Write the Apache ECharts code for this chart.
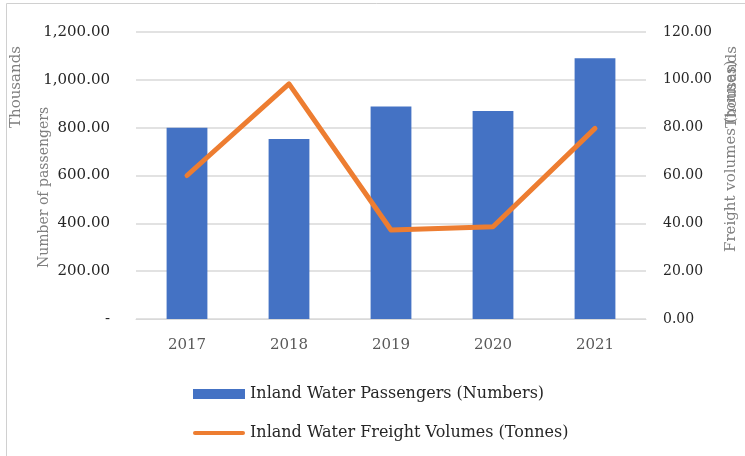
<!DOCTYPE html>
<html>
<head>
<meta charset="utf-8">
<title>Inland water</title>
<script src="https://cdn.jsdelivr.net/npm/echarts@6/dist/echarts.min.js"></script>
<style>
html,body{margin:0;padding:0;background:#fff;}
#main{width:745px;height:456px;}
</style>
</head>
<body>
<div id="main"></div>
<script>
// data
var years = ['2017', '2018', '2019', '2020', '2021'];
var passengers = [800, 753, 889, 870, 1090];   // thousands
var freight = [60, 98.3, 37.2, 38.6, 79.7];     // thousands of tonnes

var serif = '"DejaVu Serif", "Liberation Serif", serif';

function fmtLeft(v) {
	if (v === 0) return '-';
	return v.toLocaleString('en-US', {minimumFractionDigits: 2, maximumFractionDigits: 2});
}

var myChart = echarts.init(document.getElementById('main'));
var option = {
	animation: false,
	backgroundColor: '#fff',
	grid: {left: 136, right: 99, top: 32, bottom: 137},
	legend: {
		orient: 'vertical',
		left: 188,
		top: 381,
		itemWidth: 52,
		itemHeight: 10,
		itemGap: 23,
		textStyle: {fontFamily: serif, fontSize: 16, color: '#262626'},
		data: [
			{name: 'Inland Water Passengers (Numbers)', icon: 'rect'},
			{name: 'Inland Water Freight Volumes (Tonnes)', icon: 'path://M2,0 L50,0 A2,2 0 0 1 50,4 L2,4 A2,2 0 0 1 2,0 Z'}
		]
	},
	xAxis: {
		type: 'category',
		data: years,
		axisLine: {lineStyle: {color: '#d9d9d9', width: 1}},
		axisTick: {show: false},
		axisLabel: {fontFamily: serif, fontSize: 15, color: '#595959', margin: 19}
	},
	yAxis: [
		{
			type: 'value', min: 0, max: 1200, interval: 200,
			axisLine: {show: false}, axisTick: {show: false},
			splitLine: {lineStyle: {color: '#d9d9d9', width: 1.5}},
			axisLabel: {fontFamily: serif, fontSize: 15, color: '#262626', margin: 26, formatter: fmtLeft}
		},
		{
			type: 'value', min: 0, max: 120, interval: 20,
			axisLine: {show: false}, axisTick: {show: false},
			splitLine: {show: false},
			axisLabel: {fontFamily: serif, fontSize: 14, color: '#262626', margin: 17,
				formatter: function (v) { return v.toFixed(2); }}
		}
	],
	series: [
		{
			name: 'Inland Water Passengers (Numbers)',
			type: 'bar',
			data: passengers,
			barWidth: '40%',
			itemStyle: {color: '#4472C4'}
		},
		{
			name: 'Inland Water Freight Volumes (Tonnes)',
			type: 'line',
			yAxisIndex: 1,
			data: freight,
			symbol: 'none',
			lineStyle: {color: '#ED7D31', width: 5, cap: 'round', join: 'round'},
			itemStyle: {color: '#ED7D31'}
		}
	],
	graphic: [
		// outer frame of the original figure
		{type: 'rect', shape: {x: 6.5, y: 3.5, width: 760, height: 470}, style: {fill: 'none', stroke: '#d0d0d0', lineWidth: 1}, silent: true},
		{type: 'text', x: 9, y: 128, rotation: Math.PI / 2,
			style: {text: 'Thousands', font: '15px ' + serif, fill: '#7f7f7f'}},
		{type: 'text', x: 37, y: 268, rotation: Math.PI / 2,
			style: {text: 'Number of passengers', font: '14px ' + serif, fill: '#7f7f7f'}},
		{type: 'text', x: 724, y: 252, rotation: Math.PI / 2,
			style: {text: 'Freight volumes (tonnes)', font: '15px ' + serif, fill: '#7f7f7f'}},
		{type: 'text', x: 725, y: 128, rotation: Math.PI / 2,
			style: {text: 'Thousands', font: '15px ' + serif, fill: '#7f7f7f'}}
	]
};
myChart.setOption(option);
</script>
</body>
</html>
